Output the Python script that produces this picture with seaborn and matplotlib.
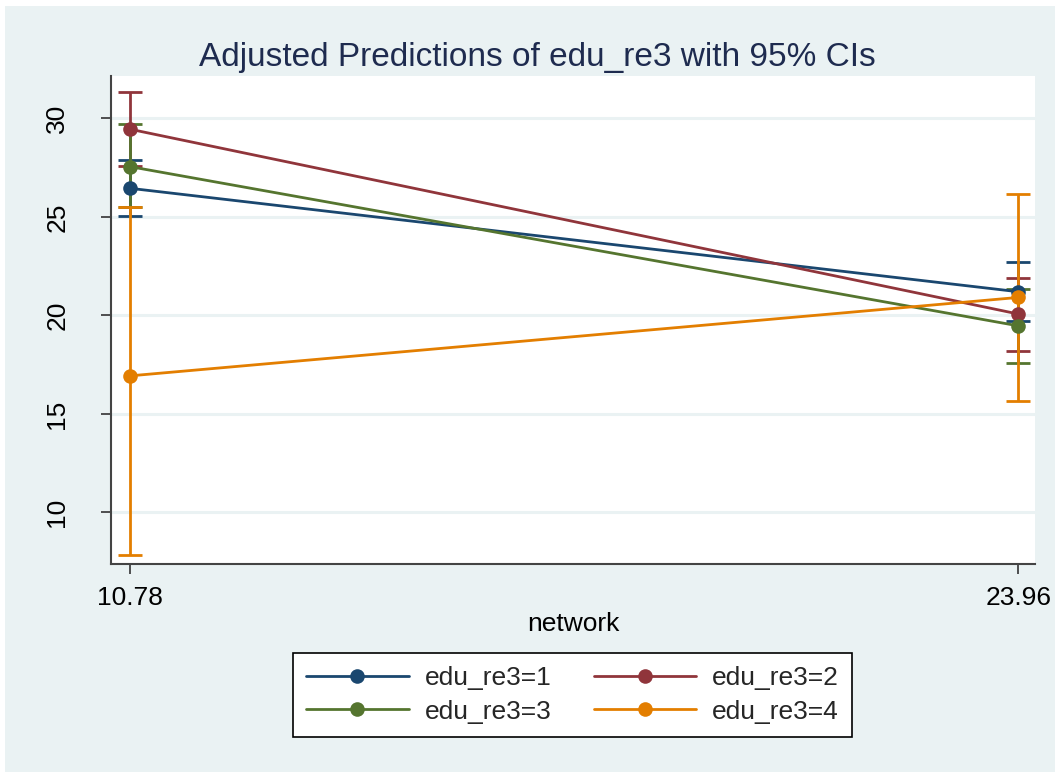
import matplotlib
matplotlib.use("Agg")
import matplotlib.pyplot as plt
from matplotlib.patches import Rectangle
import seaborn as sns
import pandas as pd

# Predicted margins at two values of network, by education group
network = [10.78, 23.96]
groups = ["edu_re3=1", "edu_re3=2", "edu_re3=3", "edu_re3=4"]
margin = {
    "edu_re3=1": [26.45, 21.20],
    "edu_re3=2": [29.45, 20.07],
    "edu_re3=3": [27.55, 19.47],
    "edu_re3=4": [16.93, 20.91],
}
ci_low = {
    "edu_re3=1": [25.05, 19.70],
    "edu_re3=2": [27.60, 18.17],
    "edu_re3=3": [25.50, 17.60],
    "edu_re3=4": [7.85, 15.67],
}
ci_high = {
    "edu_re3=1": [27.90, 22.72],
    "edu_re3=2": [31.35, 21.88],
    "edu_re3=3": [29.70, 21.35],
    "edu_re3=4": [25.52, 26.16],
}
colors = ["#1a476f", "#90353b", "#55752f", "#e37e00"]

rows = []
for g in groups:
    for x, y in zip(network, margin[g]):
        rows.append({"network": x, "margin": y, "group": g})
df = pd.DataFrame(rows)

sns.set_style("white")
plt.rcParams["font.family"] = ["Liberation Sans", "DejaVu Sans"]

W, H = 1055, 772
bg = "#eaf2f3"
fs = 19
fig = plt.figure(figsize=(W / 100, H / 100), dpi=100, facecolor="white")
# graph region background, leaving a thin white strip on the left and top
fig.patches.append(Rectangle((5 / W, -0.01), 1.01, 1.01 - 6 / H,
                             transform=fig.transFigure, facecolor=bg,
                             edgecolor="none", zorder=-10))

ax_left, ax_right = 111, 1035
ax = fig.add_axes([ax_left / W, 1 - 564 / H, (ax_right - ax_left) / W, (564 - 76) / H])
ax.set_facecolor("white")

# confidence intervals
for g, c in zip(groups, colors):
    mid = margin[g]
    lo = [m - l for m, l in zip(mid, ci_low[g])]
    hi = [h - m for m, h in zip(mid, ci_high[g])]
    ax.errorbar(network, mid, yerr=[lo, hi], fmt="none", ecolor=c,
                elinewidth=2, capsize=8.5, capthick=2, zorder=2)

sns.lineplot(data=df, x="network", y="margin", hue="group", hue_order=groups,
             palette=colors, marker="o", markersize=10.5, markeredgewidth=0,
             linewidth=2, ax=ax, zorder=3)

ax.set_xlim(10.498, 24.21)
ax.set_ylim(7.38, 32.15)
ax.set_xticks(network)
ax.set_xticklabels(["10.78", "23.96"])
ax.set_yticks([10, 15, 20, 25, 30])
ax.set_yticklabels(["10", "15", "20", "25", "30"], rotation=90, va="center")
ax.tick_params(axis="both", labelsize=fs, length=7.5, width=1.2,
               color="#333333", labelcolor="black", direction="out",
               left=True, bottom=True)
ax.tick_params(axis="y", pad=22.5)
ax.tick_params(axis="x", pad=8)
ax.grid(axis="y", color=bg, linewidth=2.2)
ax.grid(axis="x", visible=False)
for s in ["top", "right"]:
    ax.spines[s].set_visible(False)
for s in ["left", "bottom"]:
    ax.spines[s].set_color("#444444")
    ax.spines[s].set_linewidth(1.5)

ax.set_xlabel("network", fontsize=fs, labelpad=2, color="black")
ax.set_ylabel("")
# title centred on the whole graph region rather than the plot area
title_x = (537 - ax_left) / (ax_right - ax_left)
ax.set_title("Adjusted Predictions of edu_re3 with 95% CIs", fontsize=24,
             color="#1e2b4f", pad=7, x=title_x)

handles, labels = ax.get_legend_handles_labels()
ax.legend_.remove()
# two columns filled row-wise: 1 2 / 3 4
order = [0, 2, 1, 3]
leg = fig.legend([handles[i] for i in order], [labels[i] for i in order],
                 ncol=2, loc="center",
                 bbox_to_anchor=(572.5 / W, 1 - 695 / H),
                 fontsize=fs, frameon=True, fancybox=False, edgecolor="black",
                 facecolor="white", framealpha=1,
                 handlelength=3.9, handletextpad=0.6, columnspacing=1.6,
                 borderpad=0.5, labelspacing=0.35)
leg.get_frame().set_linewidth(1.2)

fig.savefig("out.png", dpi=100, facecolor="white")
